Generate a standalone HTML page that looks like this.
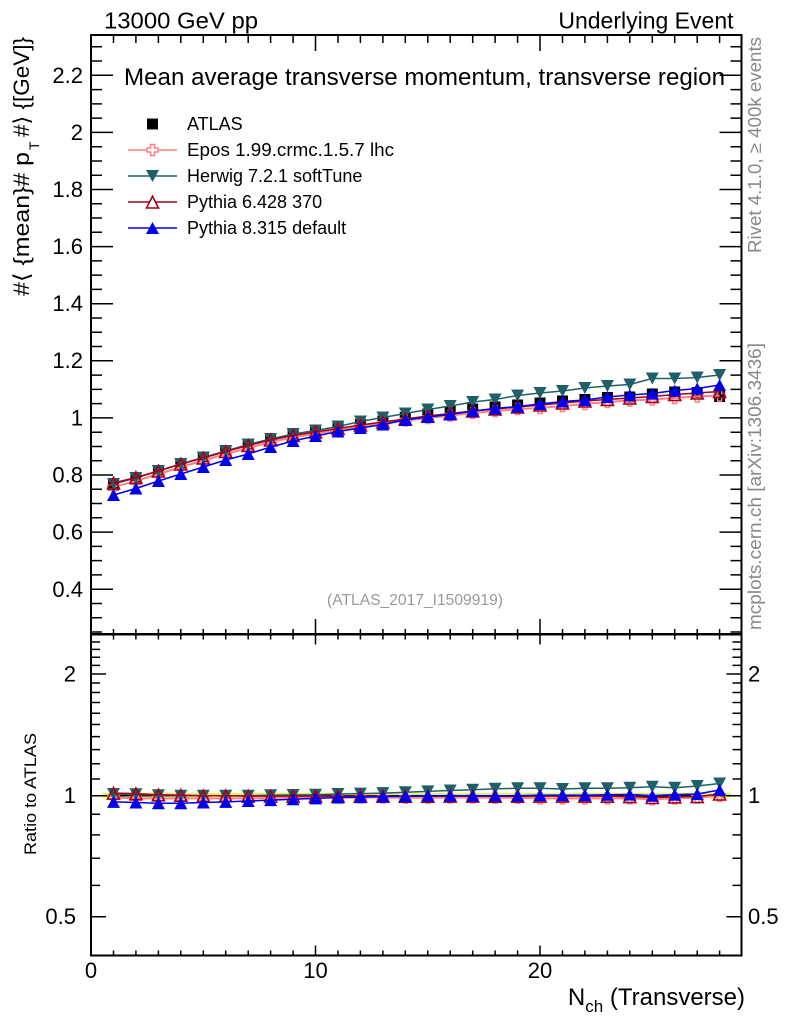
<!DOCTYPE html>
<html>
<head>
<meta charset="utf-8">
<style>
html,body{margin:0;padding:0;background:#fff;}
svg{display:block;}
</style>
</head>
<body>
<svg width="786" height="1024" viewBox="0 0 786 1024" xmlns="http://www.w3.org/2000/svg" font-family="'Liberation Sans', Arial, sans-serif">
<defs>
  <marker id="mSq" markerWidth="16" markerHeight="16" refX="8" refY="8" markerUnits="userSpaceOnUse" overflow="visible">
    <rect x="2.5" y="2.5" width="11" height="11" fill="#000"/>
  </marker>
  <marker id="mEp" markerWidth="16" markerHeight="16" refX="8" refY="8" markerUnits="userSpaceOnUse" overflow="visible">
    <path d="M6 2.5H10V6H13.5V10H10V13.5H6V10H2.5V6H6Z" fill="none" stroke="#ff8080" stroke-width="1.5"/>
  </marker>
  <marker id="mHw" markerWidth="16" markerHeight="16" refX="8" refY="8" markerUnits="userSpaceOnUse" overflow="visible">
    <polygon points="1.5,2 14.5,2 8,14" fill="#1f6068"/>
  </marker>
  <marker id="mP6" markerWidth="16" markerHeight="16" refX="8" refY="8" markerUnits="userSpaceOnUse" overflow="visible">
    <polygon points="2,14 14,14 8,2.3" fill="none" stroke="#a3001f" stroke-width="1.6"/>
  </marker>
  <marker id="mP8" markerWidth="16" markerHeight="16" refX="8" refY="8" markerUnits="userSpaceOnUse" overflow="visible">
    <polygon points="1.5,14 14.5,14 8,2" fill="#0000ee"/>
  </marker>
</defs>

<!-- top labels -->
<text x="104" y="28.5" font-size="23" textLength="154" lengthAdjust="spacingAndGlyphs">13000 GeV pp</text>
<text x="733.5" y="28.5" font-size="23" text-anchor="end">Underlying Event</text>

<!-- main frame -->
<rect x="91" y="35" width="650.5" height="599" fill="none" stroke="#000" stroke-width="2"/>

<!-- main y ticks left -->
<path d="M91 632h11M91 617.75h11M91 603.5h11M91 589.2h22M91 574.9h11M91 560.65h11M91 546.4h11M91 532.1h22M91 517.8h11M91 503.55h11M91 489.3h11M91 475h22M91 460.7h11M91 446.45h11M91 432.2h11M91 417.9h22M91 403.6h11M91 389.35h11M91 375.1h11M91 360.8h22M91 346.5h11M91 332.25h11M91 318h11M91 303.7h22M91 289.4h11M91 275.15h11M91 260.9h11M91 246.6h22M91 232.3h11M91 218.05h11M91 203.8h11M91 189.5h22M91 175.2h11M91 160.95h11M91 146.7h11M91 132.4h22M91 118.1h11M91 103.85h11M91 89.6h11M91 75.3h22M91 61h11M91 46.75h11" stroke="#000" stroke-width="1.5" fill="none"/>
<!-- main y ticks right (mirrored) -->
<g transform="translate(832.5,0) scale(-1,1)">
<path d="M91 632h11M91 617.75h11M91 603.5h11M91 589.2h22M91 574.9h11M91 560.65h11M91 546.4h11M91 532.1h22M91 517.8h11M91 503.55h11M91 489.3h11M91 475h22M91 460.7h11M91 446.45h11M91 432.2h11M91 417.9h22M91 403.6h11M91 389.35h11M91 375.1h11M91 360.8h22M91 346.5h11M91 332.25h11M91 318h11M91 303.7h22M91 289.4h11M91 275.15h11M91 260.9h11M91 246.6h22M91 232.3h11M91 218.05h11M91 203.8h11M91 189.5h22M91 175.2h11M91 160.95h11M91 146.7h11M91 132.4h22M91 118.1h11M91 103.85h11M91 89.6h11M91 75.3h22M91 61h11M91 46.75h11" stroke="#000" stroke-width="1.5" fill="none"/>
</g>

<!-- main x ticks bottom -->
<path d="M113.5 634v-5M135.9 634v-5M158.4 634v-5M180.8 634v-5M203.3 634v-5M225.7 634v-5M248.2 634v-5M270.6 634v-5M293.1 634v-5M315.5 634v-15M338 634v-5M360.4 634v-5M382.9 634v-5M405.3 634v-5M427.8 634v-5M450.2 634v-5M472.7 634v-5M495.1 634v-5M517.6 634v-5M540 634v-15M562.5 634v-5M584.9 634v-5M607.4 634v-5M629.8 634v-5M652.3 634v-5M674.7 634v-5M697.2 634v-5M719.6 634v-5" stroke="#000" stroke-width="1.5" fill="none"/>
<!-- main x ticks top -->
<path d="M113.5 35v8M135.9 35v8M158.4 35v8M180.8 35v8M203.3 35v8M225.7 35v8M248.2 35v8M270.6 35v8M293.1 35v8M315.5 35v16M338 35v8M360.4 35v8M382.9 35v8M405.3 35v8M427.8 35v8M450.2 35v8M472.7 35v8M495.1 35v8M517.6 35v8M540 35v16M562.5 35v8M584.9 35v8M607.4 35v8M629.8 35v8M652.3 35v8M674.7 35v8M697.2 35v8M719.6 35v8" stroke="#000" stroke-width="1.5" fill="none"/>

<!-- main y tick labels -->
<g font-size="22" text-anchor="end">
<text x="83" y="83">2.2</text>
<text x="83" y="140">2</text>
<text x="83" y="197">1.8</text>
<text x="83" y="254">1.6</text>
<text x="83" y="311">1.4</text>
<text x="83" y="368">1.2</text>
<text x="83" y="425.5">1</text>
<text x="83" y="482.5">0.8</text>
<text x="83" y="539.5">0.6</text>
<text x="83" y="597">0.4</text>
</g>

<!-- y axis title -->
<text transform="translate(29,296) rotate(-90)" font-size="22" font-family="'Liberation Sans','DejaVu Sans',sans-serif" textLength="144" lengthAdjust="spacingAndGlyphs">#⟨ {mean}# p</text>
<text transform="translate(39,150) rotate(-90)" font-size="14">T</text>
<text transform="translate(29,137) rotate(-90)" font-size="22" font-family="'Liberation Sans','DejaVu Sans',sans-serif" textLength="100" lengthAdjust="spacingAndGlyphs">#⟩ {[GeV]}</text>

<!-- title -->
<text x="124" y="85" font-size="24" textLength="601" lengthAdjust="spacingAndGlyphs">Mean average transverse momentum, transverse region</text>

<!-- legend -->
<g font-size="18">
<rect x="147" y="118.5" width="11" height="11" fill="#000"/>
<text x="187" y="130">ATLAS</text>
<line x1="128" y1="150" x2="177" y2="150" stroke="#ff8080" stroke-width="1.5"/>
<path d="M150.5 144.5H154.5V148H158V152H154.5V155.5H150.5V152H147V148H150.5Z" fill="#fff" stroke="#ff8080" stroke-width="1.5"/>
<text x="187" y="156" textLength="207" lengthAdjust="spacingAndGlyphs">Epos 1.99.crmc.1.5.7 lhc</text>
<line x1="128" y1="176" x2="177" y2="176" stroke="#1f6068" stroke-width="1.5"/>
<polygon points="146,170 159,170 152.5,182" fill="#1f6068"/>
<text x="187" y="182">Herwig 7.2.1 softTune</text>
<line x1="128" y1="202" x2="177" y2="202" stroke="#a3001f" stroke-width="1.5"/>
<polygon points="146.5,208 158.5,208 152.5,196.3" fill="#fff" stroke="#a3001f" stroke-width="1.6"/>
<text x="187" y="208">Pythia 6.428 370</text>
<line x1="128" y1="228" x2="177" y2="228" stroke="#0000ee" stroke-width="1.5"/>
<polygon points="146,234 159,234 152.5,222" fill="#0000ee"/>
<text x="187" y="234">Pythia 8.315 default</text>
</g>

<!-- main data -->
<polyline fill="none" stroke="none" marker-start="url(#mSq)" marker-mid="url(#mSq)" marker-end="url(#mSq)"
 points="113.5,485 135.9,479 158.4,471.5 180.8,464 203.3,457.5 225.7,451 248.2,444.5 270.6,439.5 293.1,435 315.5,431.5 338,428 360.4,424.5 382.9,421 405.3,417.5 427.8,414 450.2,411.5 472.7,409 495.1,407 517.6,405 540,403 562.5,401 584.9,399.5 607.4,397.5 629.8,397 652.3,394 674.7,392 697.2,392.5 719.6,396.5"/>
<polyline fill="none" stroke="#ff8080" stroke-width="2" marker-start="url(#mEp)" marker-mid="url(#mEp)" marker-end="url(#mEp)"
 points="113.5,487 135.9,481 158.4,474 180.8,467 203.3,460.5 225.7,454 248.2,448 270.6,442 293.1,437.5 315.5,433.5 338,430 360.4,426.5 382.9,423.5 405.3,420.5 427.8,418 450.2,415.5 472.7,413 495.1,411 517.6,409 540,408 562.5,406 584.9,404 607.4,402 629.8,400.5 652.3,399.5 674.7,398 697.2,396.5 719.6,395.5"/>
<polyline fill="none" stroke="#1f6068" stroke-width="1.5" marker-start="url(#mHw)" marker-mid="url(#mHw)" marker-end="url(#mHw)"
 points="113.5,484 135.9,478 158.4,471 180.8,464 203.3,457.5 225.7,451 248.2,444.5 270.6,439 293.1,434 315.5,430.5 338,426.5 360.4,421.5 382.9,417.5 405.3,413.5 427.8,409.5 450.2,406 472.7,402 495.1,399.5 517.6,395.5 540,393 562.5,391 584.9,388 607.4,386 629.8,384.5 652.3,378.5 674.7,378.5 697.2,377.5 719.6,375"/>
<polyline fill="none" stroke="#a3001f" stroke-width="1.5" marker-start="url(#mP6)" marker-mid="url(#mP6)" marker-end="url(#mP6)"
 points="113.5,483 135.9,477.5 158.4,471 180.8,464 203.3,458 225.7,451.5 248.2,445.5 270.6,440 293.1,435.5 315.5,432 338,428.5 360.4,425 382.9,422 405.3,419 427.8,416 450.2,413.5 472.7,411 495.1,409 517.6,407 540,405 562.5,403 584.9,401 607.4,399.5 629.8,398 652.3,396.5 674.7,394.5 697.2,393 719.6,391.5"/>
<polyline fill="none" stroke="#0000ee" stroke-width="1.5" marker-start="url(#mP8)" marker-mid="url(#mP8)" marker-end="url(#mP8)"
 points="113.5,495 135.9,488.5 158.4,481 180.8,474 203.3,467 225.7,460 248.2,454 270.6,447 293.1,441 315.5,436 338,431.5 360.4,428 382.9,424.5 405.3,420 427.8,417 450.2,414.5 472.7,411 495.1,408.5 517.6,406.5 540,404 562.5,401.5 584.9,400 607.4,397 629.8,395 652.3,393.5 674.7,390.5 697.2,388.5 719.6,385"/>

<!-- analysis id -->
<text x="415" y="605" font-size="15.5" fill="#999" text-anchor="middle" textLength="176" lengthAdjust="spacingAndGlyphs">(ATLAS_2017_I1509919)</text>

<!-- right side texts -->
<text transform="translate(761,253) rotate(-90)" font-size="18" fill="#888" textLength="216" lengthAdjust="spacingAndGlyphs">Rivet 4.1.0, ≥ 400k events</text>
<text transform="translate(761,630) rotate(-90)" font-size="18" fill="#888" textLength="287" lengthAdjust="spacingAndGlyphs">mcplots.cern.ch [arXiv:1306.3436]</text>

<!-- ratio panel -->
<rect x="102" y="792.5" width="629" height="6" fill="#ffff88"/>
<line x1="102" y1="794" x2="731" y2="794" stroke="#b8e070" stroke-width="1"/>
<line x1="91" y1="795.7" x2="741.5" y2="795.7" stroke="#000" stroke-width="1.5"/>

<polyline fill="none" stroke="#ff8080" stroke-width="2" marker-start="url(#mEp)" marker-mid="url(#mEp)" marker-end="url(#mEp)"
 points="113.5,797.5 135.9,798.4 158.4,798.4 180.8,798.4 203.3,798.4 225.7,798.4 248.2,798.4 270.6,798 293.1,797.5 315.5,797.5 338,797.5 360.4,797.5 382.9,797.5 405.3,797.8 427.8,797.8 450.2,797.5 472.7,797.5 495.1,797.8 517.6,797.8 540,798.4 562.5,798.4 584.9,798.4 607.4,798.4 629.8,798.4 652.3,799.2 674.7,798.4 697.2,797.5 719.6,795.7"/>
<polyline fill="none" stroke="#1f6068" stroke-width="1.5" marker-start="url(#mHw)" marker-mid="url(#mHw)" marker-end="url(#mHw)"
 points="113.5,794 135.9,794.3 158.4,795.2 180.8,795.7 203.3,795.7 225.7,795.7 248.2,795.7 270.6,795.3 293.1,795 315.5,794.8 338,794 360.4,793.6 382.9,793.1 405.3,792.2 427.8,791.4 450.2,790.5 472.7,789.7 495.1,788.8 517.6,788.3 540,788.3 562.5,789 584.9,788.3 607.4,788.3 629.8,787.7 652.3,786.7 674.7,787.7 697.2,786 719.6,783.5"/>
<polyline fill="none" stroke="#a3001f" stroke-width="1.5" marker-start="url(#mP6)" marker-mid="url(#mP6)" marker-end="url(#mP6)"
 points="113.5,793.1 135.9,793.6 158.4,794.8 180.8,795.2 203.3,795.7 225.7,795.7 248.2,796.1 270.6,796.1 293.1,796.1 315.5,796.1 338,796.1 360.4,796.1 382.9,796.1 405.3,796.2 427.8,796.2 450.2,796.1 472.7,796.1 495.1,796.2 517.6,796.2 540,796.1 562.5,796.1 584.9,796.1 607.4,796.2 629.8,796.6 652.3,797.5 674.7,796.9 697.2,796.6 719.6,794"/>
<polyline fill="none" stroke="#0000ee" stroke-width="1.5" marker-start="url(#mP8)" marker-mid="url(#mP8)" marker-end="url(#mP8)"
 points="113.5,801.9 135.9,802.5 158.4,803.2 180.8,803.2 203.3,802.5 225.7,801.9 248.2,801 270.6,800.1 293.1,799.2 315.5,798.4 338,797.5 360.4,797.1 382.9,796.6 405.3,796.2 427.8,795.7 450.2,795.7 472.7,795.7 495.1,795.7 517.6,795.7 540,795.2 562.5,795.2 584.9,795.3 607.4,794.8 629.8,794.5 652.3,795.7 674.7,794.6 697.2,794 719.6,790"/>

<rect x="91" y="634.5" width="650.5" height="321" fill="none" stroke="#000" stroke-width="2"/>

<!-- ratio y ticks left -->
<path d="M91 916.7h15M91 795.7h15M91 674h15M91 885.4h9M91 858.3h9M91 834.9h9M91 814.2h9M91 779h9M91 763.7h9M91 749.6h9M91 736.6h9M91 724.5h9M91 713.2h9M91 702.5h9M91 692.5h9M91 683h9M91 665.4h9M91 657.3h9M91 649.4h9M91 642h9" stroke="#000" stroke-width="1.5" fill="none"/>
<g transform="translate(832.5,0) scale(-1,1)">
<path d="M91 916.7h15M91 795.7h15M91 674h15M91 885.4h9M91 858.3h9M91 834.9h9M91 814.2h9M91 779h9M91 763.7h9M91 749.6h9M91 736.6h9M91 724.5h9M91 713.2h9M91 702.5h9M91 692.5h9M91 683h9M91 665.4h9M91 657.3h9M91 649.4h9M91 642h9" stroke="#000" stroke-width="1.5" fill="none"/>
</g>

<!-- ratio x ticks top -->
<path d="M113.5 634.5v5M135.9 634.5v5M158.4 634.5v5M180.8 634.5v5M203.3 634.5v5M225.7 634.5v5M248.2 634.5v5M270.6 634.5v5M293.1 634.5v5M315.5 634.5v10M338 634.5v5M360.4 634.5v5M382.9 634.5v5M405.3 634.5v5M427.8 634.5v5M450.2 634.5v5M472.7 634.5v5M495.1 634.5v5M517.6 634.5v5M540 634.5v10M562.5 634.5v5M584.9 634.5v5M607.4 634.5v5M629.8 634.5v5M652.3 634.5v5M674.7 634.5v5M697.2 634.5v5M719.6 634.5v5" stroke="#000" stroke-width="1.5" fill="none"/>
<!-- ratio x ticks bottom -->
<path d="M113.5 955.5v-5M135.9 955.5v-5M158.4 955.5v-5M180.8 955.5v-5M203.3 955.5v-5M225.7 955.5v-5M248.2 955.5v-5M270.6 955.5v-5M293.1 955.5v-5M315.5 955.5v-10M338 955.5v-5M360.4 955.5v-5M382.9 955.5v-5M405.3 955.5v-5M427.8 955.5v-5M450.2 955.5v-5M472.7 955.5v-5M495.1 955.5v-5M517.6 955.5v-5M540 955.5v-10M562.5 955.5v-5M584.9 955.5v-5M607.4 955.5v-5M629.8 955.5v-5M652.3 955.5v-5M674.7 955.5v-5M697.2 955.5v-5M719.6 955.5v-5" stroke="#000" stroke-width="1.5" fill="none"/>

<!-- ratio labels -->
<g font-size="22">
<text x="76" y="681.5" text-anchor="end">2</text>
<text x="76" y="803" text-anchor="end">1</text>
<text x="76" y="924" text-anchor="end">0.5</text>
<text x="748" y="681.5">2</text>
<text x="748" y="803">1</text>
<text x="748" y="924">0.5</text>
</g>
<text transform="translate(36,855) rotate(-90)" font-size="17" textLength="122" lengthAdjust="spacingAndGlyphs">Ratio to ATLAS</text>

<!-- x tick labels -->
<g font-size="22" text-anchor="middle">
<text x="91" y="978">0</text>
<text x="315.5" y="978">10</text>
<text x="540" y="978">20</text>
</g>

<!-- x title -->
<text x="745" y="1005" font-size="24" text-anchor="end">N<tspan font-size="17" dy="7">ch</tspan><tspan dy="-7"> (Transverse)</tspan></text>
</svg>
</body>
</html>
